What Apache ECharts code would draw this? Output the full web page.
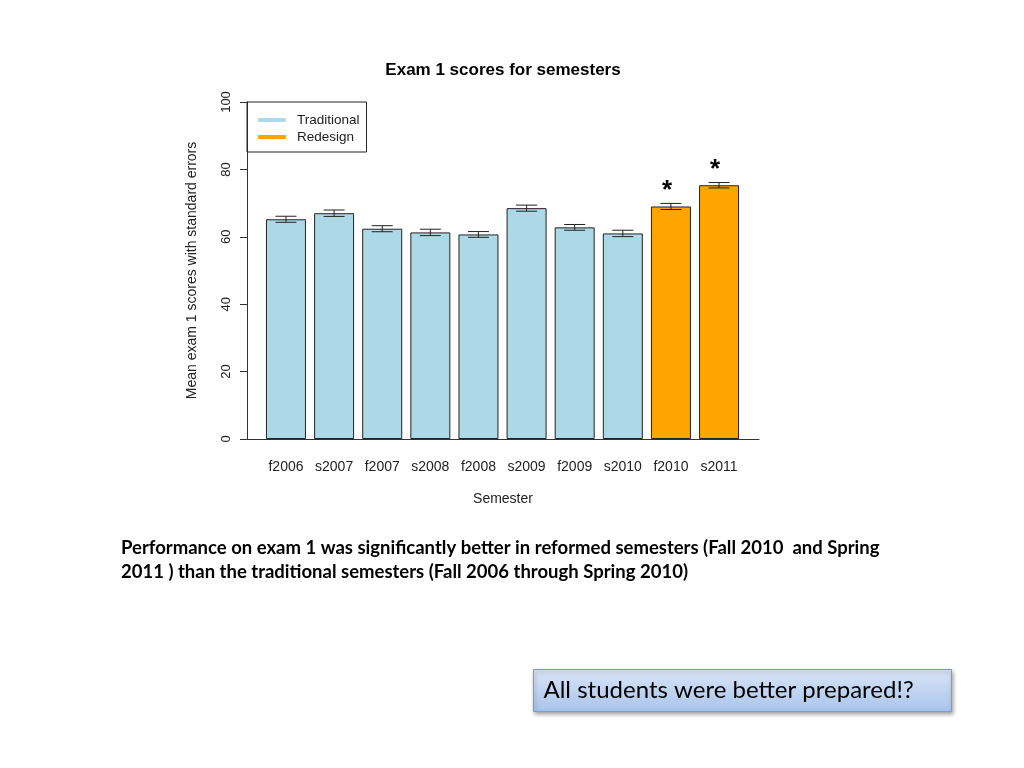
<!DOCTYPE html>
<html>
<head>
<meta charset="utf-8">
<script src="https://cdn.jsdelivr.net/npm/echarts@6/dist/echarts.min.js"></script>
<style>
  html, body { margin: 0; padding: 0; background: #fff; }
  #chart { width: 1024px; height: 768px; }
</style>
</head>
<body>
<div id="chart"></div>
<script>
// semester labels, means and standard errors
const semesters = ["f2006", "s2007", "f2007", "s2008", "f2008", "s2009", "f2009", "s2010", "f2010", "s2011"];
const meanScores = [65.2, 67.0, 62.4, 61.3, 60.7, 68.5, 62.8, 61.0, 69.0, 75.3];
const stdErrors = [0.9, 0.95, 0.9, 0.95, 0.85, 0.9, 0.85, 0.95, 0.9, 0.8];
const isRedesign = [false, false, false, false, false, false, false, false, true, true];
const significant = [false, false, false, false, false, false, false, false, true, true];
const yTicks = [0, 20, 40, 60, 80, 100];

const chart = echarts.init(document.getElementById("chart"));

const tradData = [];
const redData = [];
semesters.forEach((s, i) => {
  if (isRedesign[i]) redData.push([i, meanScores[i]]);
  else tradData.push([i, meanScores[i]]);
});
const errData = semesters.map((s, i) => [i, meanScores[i] - stdErrors[i], meanScores[i] + stdErrors[i], significant[i] ? 1 : 0]);

const font = "'Liberation Sans', Arial, sans-serif";

const option = {
  animation: false,
  title: {
    text: "Exam 1 scores for semesters",
    left: 498,
    top: 57,
    textAlign: "center",
    textStyle: { fontFamily: font, fontSize: 17, fontWeight: "bold", color: "#000" },
  },
  legend: {
    orient: "vertical",
    left: 247,
    top: 102,
    borderColor: "#222",
    borderWidth: 1,
    borderRadius: 0,
    padding: [11, 7, 8, 11],
    itemGap: 3,
    itemWidth: 28,
    itemHeight: 4,
    textStyle: { fontFamily: font, fontSize: 13.5, color: "#222", padding: [0, 0, 0, 6], lineHeight: 14 },
    data: [
      { name: "Traditional", icon: "roundRect", itemStyle: { color: "#ADD8E6", borderWidth: 0 } },
      { name: "Redesign", icon: "roundRect", itemStyle: { color: "#FFA500", borderWidth: 0 } },
    ],
  },
  grid: { left: 247, right: 1024 - 759, top: 102, bottom: 768 - 439 },
  xAxis: {
    type: "value",
    min: -0.81,
    max: 9.83,
    name: "Semester",
    nameLocation: "middle",
    nameGap: 53,
    nameTextStyle: { fontFamily: font, fontSize: 14, color: "#222" },
    axisLine: { show: true, onZero: false, lineStyle: { color: "#333", width: 1 } },
    axisTick: { show: false },
    splitLine: { show: false },
    axisLabel: {
      customValues: semesters.map((s, i) => i),
      formatter: (v) => semesters[Math.round(v)],
      margin: 21,
      fontFamily: font,
      fontSize: 14,
      color: "#222",
    },
  },
  yAxis: {
    type: "value",
    min: 0,
    max: 100,
    interval: 20,
    name: "Mean exam 1 scores with standard errors",
    nameLocation: "middle",
    nameGap: 48,
    nameTextStyle: { fontFamily: font, fontSize: 14, color: "#222" },
    axisLine: { show: true, onZero: false, lineStyle: { color: "#333", width: 1 } },
    axisTick: { show: true, length: 7, lineStyle: { color: "#333" } },
    splitLine: { show: false },
    axisLabel: {
      customValues: yTicks,
      rotate: 90,
      margin: 14,
      fontFamily: font,
      fontSize: 13,
      color: "#222",
    },
  },
  series: [
    {
      name: "Traditional",
      type: "bar",
      stack: "all",
      barWidth: 40,
      data: tradData,
      itemStyle: { color: "#ADD8E6", borderColor: "#222", borderWidth: 1 },
    },
    {
      name: "Redesign",
      type: "bar",
      stack: "all",
      barWidth: 40,
      data: redData,
      itemStyle: { color: "#FFA500", borderColor: "#222", borderWidth: 1 },
    },
    {
      type: "custom",
      data: errData,
      z: 10,
      renderItem: (params, api) => {
        const x = api.value(0);
        const lo = api.coord([x, api.value(1)]);
        const hi = api.coord([x, api.value(2)]);
        const cap = 10.5;
        const style = { stroke: "#222", lineWidth: 1 };
        const children = [
          { type: "line", shape: { x1: lo[0], y1: lo[1], x2: hi[0], y2: hi[1] }, style },
          { type: "line", shape: { x1: lo[0] - cap, y1: lo[1], x2: lo[0] + cap, y2: lo[1] }, style },
          { type: "line", shape: { x1: hi[0] - cap, y1: hi[1], x2: hi[0] + cap, y2: hi[1] }, style },
        ];
        if (api.value(3)) {
          children.push({
            type: "text",
            style: {
              text: "*",
              x: hi[0] - 4,
              y: hi[1],
              align: "center",
              verticalAlign: "bottom",
              fontFamily: font,
              fontSize: 26,
              fontWeight: "bold",
              fill: "#000",
            },
          });
        }
        return { type: "group", children };
      },
    },
  ],
  graphic: [
    {
      type: "text",
      left: 121,
      top: 536,
      style: {
        text: "Performance on exam 1 was significantly better in reformed semesters (Fall 2010  and Spring\n2011 ) than the traditional semesters (Fall 2006 through Spring 2010)",
        fontFamily: "Lato, 'Open Sans', sans-serif",
        fontSize: 18.5,
        fontWeight: "bold",
        lineHeight: 24,
        fill: "#000",
      },
    },
    {
      type: "group",
      left: 533,
      top: 669,
      children: [
        {
          type: "rect",
          shape: { x: 0, y: 0, width: 418, height: 42 },
          style: {
            fill: new echarts.graphic.LinearGradient(0, 0, 0, 1, [
              { offset: 0, color: "#d9e5f6" },
              { offset: 1, color: "#a9c4ec" },
            ]),
            stroke: "#7a9bd0",
            lineWidth: 1,
            shadowBlur: 4,
            shadowOffsetX: 1,
            shadowOffsetY: 2,
            shadowColor: "rgba(0,0,0,0.35)",
          },
        },
        {
          type: "text",
          x: 10,
          y: 21,
          style: {
            text: "All students were better prepared!?",
            fontFamily: "Lato, 'Open Sans', sans-serif",
            fontSize: 24,
            verticalAlign: "middle",
            fill: "#000",
          },
        },
      ],
    },
  ],
};

chart.setOption(option);
</script>
</body>
</html>
